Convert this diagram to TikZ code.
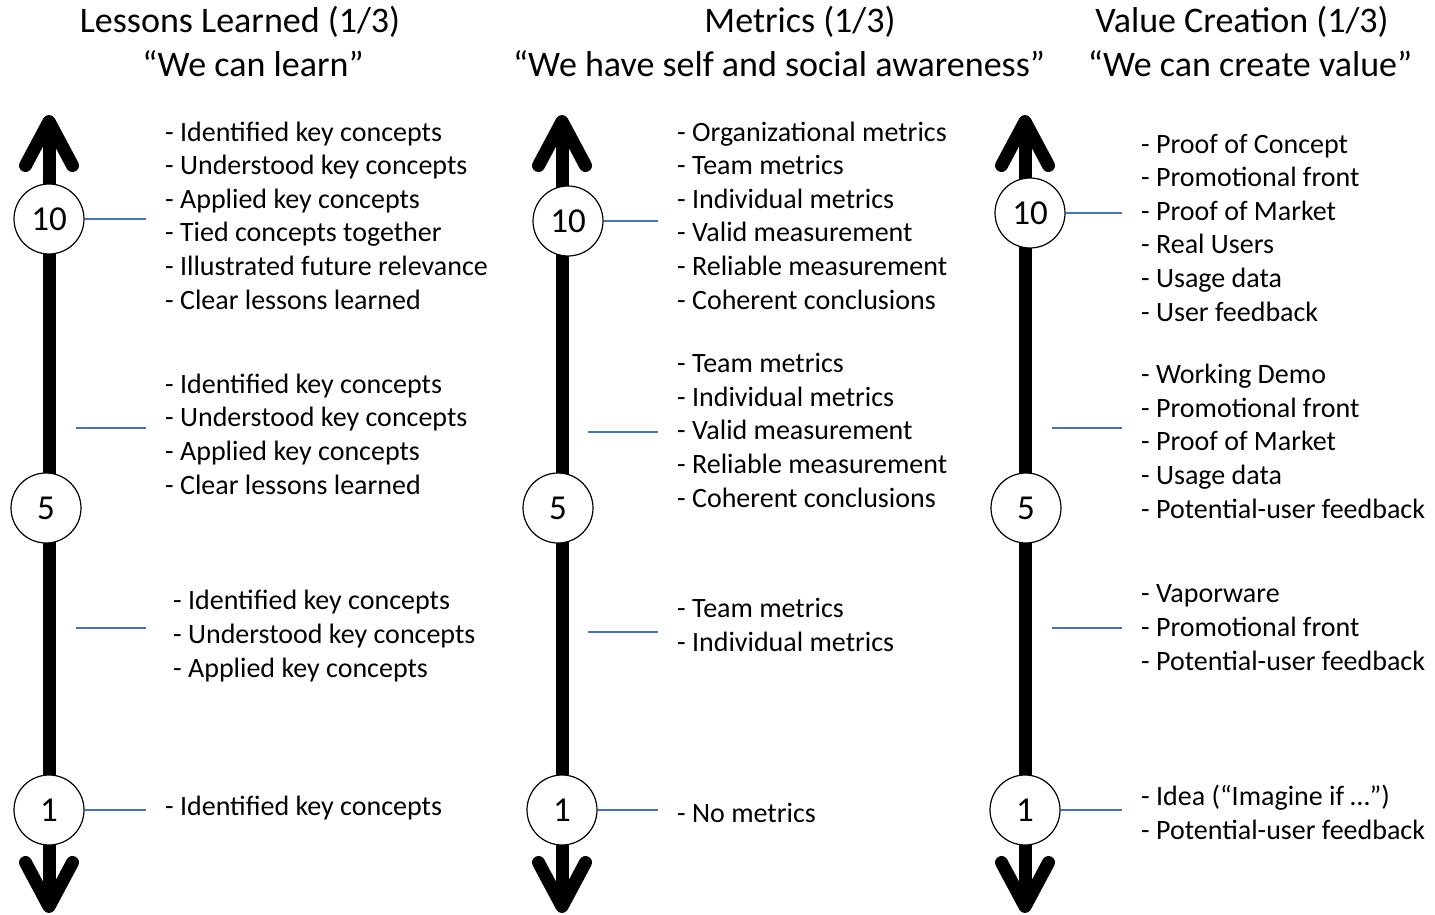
\documentclass[tikz,border=0pt]{standalone}
\usepackage{fontspec}
\setmainfont{Carlito}
\usetikzlibrary{arrows.meta}

\definecolor{rungblue}{RGB}{68,114,196}

\begin{document}
\begin{tikzpicture}[x=1pt, y=-1pt,
    axis/.style={line width=13pt, {Straight Barb[length=44pt, width=47pt, round]}-{Straight Barb[length=44pt, width=47pt, round]}},
    score/.style={circle, draw, line width=1.2pt, fill=white, minimum size=70pt, inner sep=0pt, font=\fontsize{35}{42}\selectfont},
    rung/.style={draw=rungblue, line width=2.7pt},
    items/.style={anchor=base west, align=left, inner sep=0pt, font=\fontsize{28}{33.6}\selectfont},
    head/.style={anchor=base, inner sep=0pt, font=\fontsize{36}{44}\selectfont}]
    \useasboundingbox (0,0) rectangle (1435,915);

    % Add titles
    \node[head] (lhead) at (240,33) {Lessons Learned (1/3)};
    \node[head] (lsub) at (253,77) {“We can learn”};
    \node[head] (mhead) at (800,33) {Metrics (1/3)};
    \node[head] (msub) at (779,77) {“We have self and social awareness”};
    \node[head] (vhead) at (1242,33) {Value Creation (1/3)};
    \node[head] (vsub) at (1250,77) {“We can create value”};

    % Define the scale ends
    \coordinate (ltop) at (49,115);
    \coordinate (lbot) at (49,913);
    \coordinate (mtop) at (562,115);
    \coordinate (mbot) at (562,913);
    \coordinate (vtop) at (1025,115);
    \coordinate (vbot) at (1025,913);

    % Draw the scales
    \draw[axis] (ltop) -- (lbot);
    \draw[axis] (mtop) -- (mbot);
    \draw[axis] (vtop) -- (vbot);

    % Add the scores
    \node[score] (l10) at (49,219) {10};
    \node[score] (l5) at (46,508) {5};
    \node[score] (l1) at (49,810) {1};
    \node[score] (m10) at (568,221) {10};
    \node[score] (m5) at (558,508) {5};
    \node[score] (m1) at (562,810) {1};
    \node[score] (v10) at (1030,213) {10};
    \node[score] (v5) at (1026,508) {5};
    \node[score] (v1) at (1025,810) {1};

    % Lessons learned (placed by the baseline of the last line)
    \node[items] (lt10) at (165,309) {- Identified key concepts\\- Understood key concepts\\- Applied key concepts\\- Tied concepts together\\- Illustrated future relevance\\- Clear lessons learned};
    \node[items] (lt7) at (165,494) {- Identified key concepts\\- Understood key concepts\\- Applied key concepts\\- Clear lessons learned};
    \node[items] (lt3) at (173,677) {- Identified key concepts\\- Understood key concepts\\- Applied key concepts};
    \node[items] (lt1) at (165,815) {- Identified key concepts};

    % Metrics
    \node[items] (mt10) at (677,309) {- Organizational metrics\\- Team metrics\\- Individual metrics\\- Valid measurement\\- Reliable measurement\\- Coherent conclusions};
    \node[items] (mt7) at (677,507) {- Team metrics\\- Individual metrics\\- Valid measurement\\- Reliable measurement\\- Coherent conclusions};
    \node[items] (mt3) at (677,651) {- Team metrics\\- Individual metrics};
    \node[items] (mt1) at (677,822) {- No metrics};

    % Value creation
    \node[items] (vt10) at (1141,321) {- Proof of Concept\\- Promotional front\\- Proof of Market\\- Real Users\\- Usage data\\- User feedback};
    \node[items] (vt7) at (1141,518) {- Working Demo\\- Promotional front\\- Proof of Market\\- Usage data\\- Potential-user feedback};
    \node[items] (vt3) at (1141,670) {- Vaporware\\- Promotional front\\- Potential-user feedback};
    \node[items] (vt1) at (1141,839) {- Idea (“Imagine if …”)\\- Potential-user feedback};

    % Define the free ends of the rungs
    \coordinate (lc7) at (76,428);
    \coordinate (lc3) at (76,628);
    \coordinate (mc7) at (588,432);
    \coordinate (mc3) at (588,632);
    \coordinate (vc7) at (1052,428);
    \coordinate (vc3) at (1052,628);

    % Draw the rungs
    \draw[rung, shorten >=19pt] (l10.east) -- (l10.east -| lt10.west);
    \draw[rung, shorten >=19pt] (lc7) -- (lc7 -| lt7.west);
    \draw[rung, shorten >=27pt] (lc3) -- (lc3 -| lt3.west);
    \draw[rung, shorten >=19pt] (l1.east) -- (l1.east -| lt1.west);
    \draw[rung, shorten >=19pt] (m10.east) -- (m10.east -| mt10.west);
    \draw[rung, shorten >=19pt] (mc7) -- (mc7 -| mt7.west);
    \draw[rung, shorten >=19pt] (mc3) -- (mc3 -| mt3.west);
    \draw[rung, shorten >=19pt] (m1.east) -- (m1.east -| mt1.west);
    \draw[rung, shorten >=19pt] (v10.east) -- (v10.east -| vt10.west);
    \draw[rung, shorten >=19pt] (vc7) -- (vc7 -| vt7.west);
    \draw[rung, shorten >=19pt] (vc3) -- (vc3 -| vt3.west);
    \draw[rung, shorten >=19pt] (v1.east) -- (v1.east -| vt1.west);
\end{tikzpicture}
\end{document}
